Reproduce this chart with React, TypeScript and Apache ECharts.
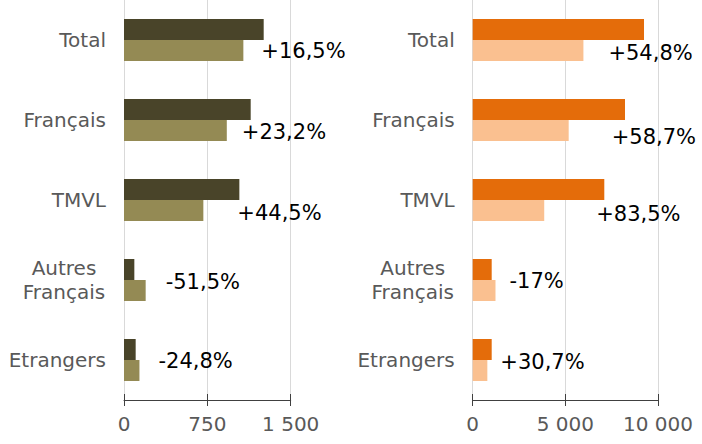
import React, { useEffect, useRef } from "react";
import * as echarts from "echarts";

const categories = ["Total", "Français", "TMVL", "Autres\nFrançais", "Etrangers"];

const leftRecent = [1257, 1140, 1038, 93, 105];
const leftPrior = [1074, 925, 714, 195, 139];
const leftChange = ["+16,5%", "+23,2%", "+44,5%", "-51,5%", "-24,8%"];

const rightRecent = [9245, 8219, 7102, 1025, 1025];
const rightPrior = [5975, 5180, 3860, 1230, 790];
const rightChange = ["+54,8%", "+58,7%", "+83,5%", "-17%", "+30,7%"];

const leftTicks = [0, 750, 1500];
const rightTicks = [0, 5000, 10000];

// label placement tweaks (styling, not data)
const leftOffsets = [[13, 0], [10, 1], [29, 2], [15, -9], [14, -10]];
const rightOffsets = [[20, 2], [38, 6], [47, 3], [9, -10], [8, -9]];

const FONT = "DejaVu Sans";

const fmt = (v: number) => String(v).replace(/\B(?=(\d{3})+(?!\d))/g, " ");

function xAxes(gridIndex: number, ticks: number[]) {
  const min = ticks[0];
  const max = ticks[ticks.length - 1];
  const interval = ticks[1] - ticks[0];
  return [
    {
      type: "value",
      gridIndex,
      min,
      max,
      interval,
      position: "bottom",
      axisLine: { show: true, lineStyle: { color: "#404040", width: 1 } },
      axisTick: { show: true, length: 6, lineStyle: { color: "#404040" } },
      axisLabel: {
        show: true,
        formatter: (v: number) => fmt(v),
        fontSize: 20,
        color: "#595959",
        fontFamily: FONT,
        margin: 14,
      },
      splitLine: { show: true, lineStyle: { color: "#d9d9d9", width: 1 } },
    },
    {
      type: "value",
      gridIndex,
      min,
      max,
      interval,
      position: "bottom",
      axisLine: { show: false },
      axisTick: { show: true, inside: true, length: 6, lineStyle: { color: "#404040" } },
      axisLabel: { show: false },
      splitLine: { show: false },
    },
  ];
}

function yAxis(gridIndex: number) {
  return {
    type: "category",
    gridIndex,
    inverse: true,
    data: categories,
    axisLine: { show: false },
    axisTick: { show: false },
    axisLabel: {
      fontSize: 20,
      color: "#595959",
      fontFamily: FONT,
      margin: 18,
      lineHeight: 24,
      formatter: (v: string) =>
        v.includes("\n") ? v.split("\n").map((s) => `{c|${s}}`).join("\n") : v,
      rich: {
        c: { width: 84, align: "center", fontSize: 20, color: "#595959", fontFamily: FONT, lineHeight: 24 },
      },
    },
  };
}

function series(
  xAxisIndex: number,
  yAxisIndex: number,
  recent: number[],
  prior: number[],
  changes: string[],
  offsets: number[][],
  dark: string,
  light: string
) {
  return [
    {
      type: "bar",
      xAxisIndex,
      yAxisIndex,
      data: recent,
      barWidth: 21,
      barGap: "0%",
      itemStyle: { color: dark },
    },
    {
      type: "bar",
      xAxisIndex,
      yAxisIndex,
      barWidth: 21,
      barGap: "0%",
      itemStyle: { color: light },
      data: prior.map((v, i) => ({
        value: v,
        label: {
          show: true,
          position: "right",
          distance: 5,
          offset: offsets[i],
          formatter: changes[i],
          fontSize: 21,
          color: "#000000",
          fontFamily: FONT,
        },
      })),
    },
  ];
}

export default function App() {
  const ref = useRef<HTMLDivElement>(null);
  useEffect(() => {
    if (!ref.current) return;
    const chart = echarts.init(ref.current, undefined, { renderer: "svg" });
    chart.setOption({
      animation: false,
      backgroundColor: "#ffffff",
      grid: [
        { left: 124, top: 0, width: 166.7, height: 400 },
        { left: 472.7, top: 0, width: 185.3, height: 400 },
      ],
      xAxis: [...xAxes(0, leftTicks), ...xAxes(1, rightTicks)],
      yAxis: [yAxis(0), yAxis(1)],
      series: [
        ...series(0, 0, leftRecent, leftPrior, leftChange, leftOffsets, "#494429", "#948A54"),
        ...series(2, 1, rightRecent, rightPrior, rightChange, rightOffsets, "#E46C0A", "#FAC090"),
      ],
    });
    return () => chart.dispose();
  }, []);
  return (
    <div
      ref={ref}
      style={{ position: "fixed", left: 0, top: 0, width: 702, height: 444 }}
    />
  );
}
